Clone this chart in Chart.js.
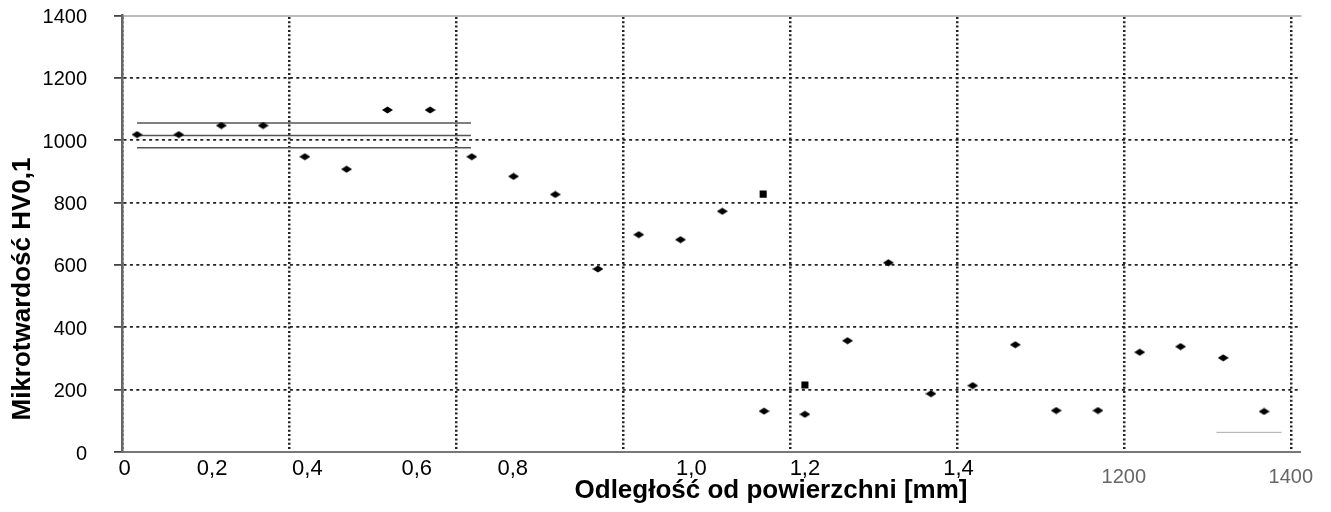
<!DOCTYPE html>
<html>
<head>
<meta charset="utf-8">
<script src="https://cdn.jsdelivr.net/npm/chart.js@4.4.1/dist/chart.umd.min.js"></script>
<style>
  html, body { margin: 0; padding: 0; background: #fff; }
  #wrap { width: 1331px; height: 512px; }
</style>
</head>
<body>
<div id="wrap"><canvas id="chart" width="1331" height="512"></canvas></div>
<script>
// measured points (x in the axis' own units, 0..1400)
const pointX = [18, 68, 119, 169, 219, 269, 318, 369, 419, 469, 519, 570, 619, 669,
                719, 769, 818, 869, 918, 969, 1019, 1070, 1119, 1169, 1219, 1268, 1319, 1368];
const hardness = [1018, 1018, 1047, 1047, 947, 907, 1097, 1097, 947, 884, 826, 587, 697, 681,
                  772, 131, 121, 357, 607, 187, 213, 344, 133, 133, 320, 338, 302, 130];

// the two square markers
const squareX = [768, 818];
const squareY = [827, 215];

// mean / band lines over the surface layer
const bandX = [18, 418];
const bandLevels = [1055, 1015, 976];

// stray short line bottom right
const strayX = [1311, 1389];
const strayY = [63, 63];

// axis stuff
const gridX = [0, 200, 400, 600, 800, 1000, 1200, 1400];
const xLabelPos = [3, 108, 222, 353, 468, 682, 818, 1002, 1200, 1400];
const xLabelText = ['0', '0,2', '0,4', '0,6', '0,8', '1,0', '1,2', '1,4', '1200', '1400'];

const xTitle = 'Odległość od powierzchni [mm]';
const yTitle = 'Mikrotwardość HV0,1';

const FONT = '"Liberation Sans", Arial, sans-serif';

// flattened diamond marker
const diamond = document.createElement('canvas');
diamond.width = 11;
diamond.height = 8;
const dc = diamond.getContext('2d');
dc.fillStyle = '#000';
dc.beginPath();
dc.moveTo(0, 4);
dc.lineTo(5.5, 0.5);
dc.lineTo(11, 4);
dc.lineTo(5.5, 7.5);
dc.closePath();
dc.fill();

const axisTitles = {
  id: 'axisTitles',
  afterDraw(chart) {
    const ctx = chart.ctx;
    ctx.save();
    ctx.font = 'bold 26px ' + FONT;
    ctx.fillStyle = '#000';
    ctx.textAlign = 'center';
    ctx.textBaseline = 'middle';
    ctx.fillText(xTitle, 771, 491);
    ctx.translate(23, 289);
    ctx.rotate(-Math.PI / 2);
    ctx.fillText(yTitle, 0, 0);
    ctx.restore();
  }
};

const datasets = [
  {
    data: pointX.map((x, i) => ({ x: x, y: hardness[i] })),
    pointStyle: diamond,
    pointRadius: 5,
    showLine: false
  },
  {
    data: squareX.map((x, i) => ({ x: x, y: squareY[i] })),
    pointStyle: 'rect',
    pointRadius: 5,
    backgroundColor: '#000',
    borderColor: '#000',
    borderWidth: 0,
    showLine: false
  }
];

bandLevels.forEach(level => {
  datasets.push({
    data: bandX.map(x => ({ x: x, y: level })),
    showLine: true,
    borderColor: '#555',
    borderWidth: 1.5,
    pointRadius: 0
  });
});

datasets.push({
  data: strayX.map((x, i) => ({ x: x, y: strayY[i] })),
  showLine: true,
  borderColor: '#aaa',
  borderWidth: 1,
  pointRadius: 0
});

new Chart(document.getElementById('chart'), {
  type: 'scatter',
  data: { datasets: datasets },
  plugins: [axisTitles],
  options: {
    responsive: false,
    animation: false,
    layout: { padding: { left: 0, right: 31, top: 0, bottom: 0 } },
    plugins: { legend: { display: false }, tooltip: { enabled: false } },
    scales: {
      x: {
        type: 'linear',
        position: 'top',
        min: 0,
        max: 1411,
        afterBuildTicks: axis => { axis.ticks = gridX.map(v => ({ value: v })); },
        afterFit: axis => { axis.height = 15.5; axis.paddingLeft = 0; axis.paddingRight = 0; },
        ticks: { display: false },
        grid: { color: '#222', lineWidth: 2.5, drawTicks: false },
        border: { display: true, color: '#bbb', width: 2, dash: [2, 2.3] }
      },
      xLabels: {
        type: 'linear',
        axis: 'x',
        position: 'bottom',
        min: 0,
        max: 1411,
        afterBuildTicks: axis => { axis.ticks = xLabelPos.map(v => ({ value: v })); },
        afterFit: axis => { axis.height = 60; axis.paddingLeft = 0; axis.paddingRight = 0; },
        ticks: {
          autoSkip: false,
          maxRotation: 0,
          padding: -4,
          callback: (v, i) => xLabelText[i],
          color: c => c.index >= 8 ? '#666' : '#000',
          // the two right-hand labels sit a bit lower in the original
          font: c => c.index >= 8
            ? { family: FONT, size: 20, lineHeight: 2.1 }
            : { family: FONT, size: 22 }
        },
        grid: { display: false },
        border: { display: true, color: '#777', width: 2 }
      },
      y: {
        min: 0,
        max: 1400,
        afterFit: axis => { axis.width = 122; axis.paddingTop = 0; axis.paddingBottom = 0; },
        ticks: {
          stepSize: 200,
          padding: 27,
          labelOffset: 2,
          color: '#000',
          font: { family: FONT, size: 20 },
          callback: v => String(v)
        },
        grid: {
          color: c => c.tick && c.tick.value === 1400 ? 'rgba(0,0,0,0)' : '#222',
          lineWidth: 1.8,
          tickLength: 8,
          tickColor: '#444'
        },
        border: { display: true, color: '#666', width: 2.5, dash: [3, 3.4] }
      }
    }
  }
});
</script>
</body>
</html>
